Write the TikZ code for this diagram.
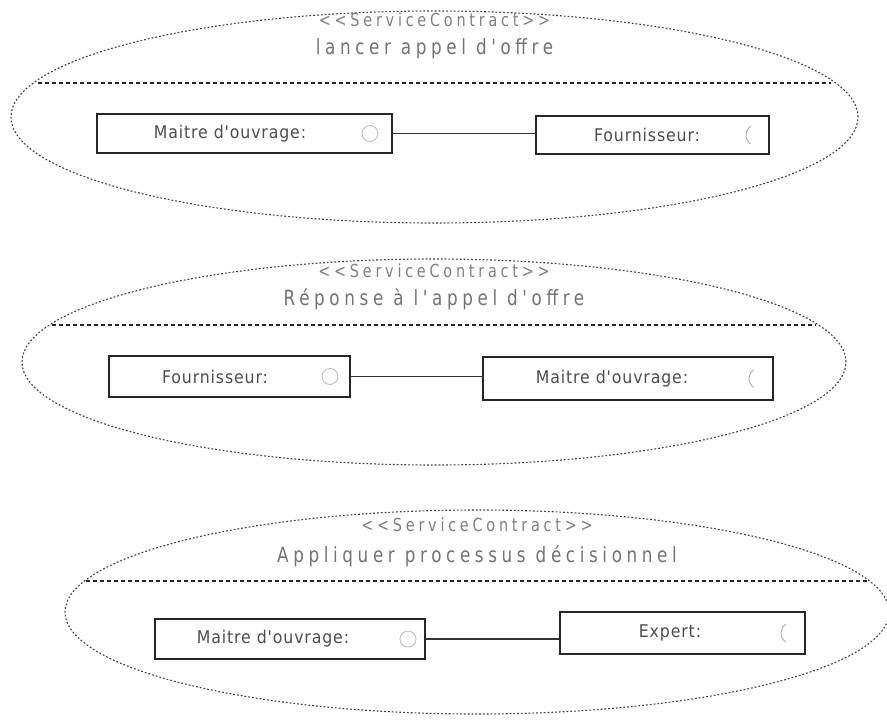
\documentclass[tikz,border=0pt]{standalone}
\usepackage{fontspec}
\setmainfont{DejaVu Sans}
\newfontfamily\headfont[FakeStretch=0.8,LetterSpace=21]{DejaVu Sans}
\newfontfamily\partfont[FakeStretch=0.9,LetterSpace=5]{DejaVu Sans}
\usetikzlibrary{shapes.geometric,calc}

\tikzset{
  contract/.style={ellipse, draw=black!75, line width=1.1pt,
    dash pattern=on 1.8pt off 2pt, inner sep=0pt},
  divider/.style={draw=black!85, line width=1.2pt, dash pattern=on 4pt off 3pt},
  part/.style={rectangle, draw=black!85, line width=1.2pt, inner sep=0pt},
  link/.style={draw=black!80, line width=1.1pt},
  stereo/.style={font=\headfont\fontsize{18}{21}\selectfont, text=black!50, anchor=base},
  cname/.style={font=\headfont\addfontfeature{LetterSpace=22}\fontsize{21}{24}\selectfont, text=black!55, anchor=base},
  plabel/.style={font=\partfont\fontsize{17.5}{20}\selectfont, text=black!70, inner sep=0pt},
  provided/.style={circle, draw=black!25, line width=0.9pt, minimum size=16pt, inner sep=0pt},
  required/.style={draw=black!30, line width=1pt},
}

\begin{document}
\begin{tikzpicture}[x=1pt,y=-1pt]
  \useasboundingbox (0,0) rectangle (887,721);

  % ---- contract 1 : lancer appel d'offre ----
  \node[contract, minimum width=847pt, minimum height=212pt] (c1) at (434.5,117) {};
  \node[stereo] (s1) at (434.5,26) {<{}<ServiceContract>{}>};
  \node[cname] (t1) at (434.5,54) {lancer appel d'offre};
  \coordinate (d1l) at (38,83);
  \coordinate (d1r) at (831,83);
  \draw[divider] (d1l) -- (d1r);

  \node[part, minimum width=295pt, minimum height=39pt] (p11) at (244.5,133.5) {};
  \node[part, minimum width=233pt, minimum height=38pt] (p12) at (652.5,135) {};
  \node[plabel] (l11) at (230,133.5) {Maitre d'ouvrage:};
  \node[plabel] (l12) at (647,135) {Fournisseur:};
  \node[provided] (i11) at (370,133.5) {};
  \draw[required] (757,135) ++(125:11) arc[start angle=125, end angle=235, radius=11];
  \draw[link] (p11.east) -- (p11.east -| p12.west);

  % ---- contract 2 : Réponse à l'appel d'offre ----
  \node[contract, minimum width=824pt, minimum height=206pt] (c2) at (434,362) {};
  \node[stereo] (s2) at (434,277) {<{}<ServiceContract>{}>};
  \node[cname] (t2) at (434,305) {Réponse à l'appel d'offre};
  \coordinate (d2l) at (52,325);
  \coordinate (d2r) at (816,325);
  \draw[divider] (d2l) -- (d2r);

  \node[part, minimum width=241pt, minimum height=41pt] (p21) at (229.5,376.5) {};
  \node[part, minimum width=290pt, minimum height=43pt] (p22) at (628,378.5) {};
  \node[plabel] (l21) at (215,376.5) {Fournisseur:};
  \node[plabel] (l22) at (612,378.5) {Maitre d'ouvrage:};
  \node[provided] (i21) at (330,376.5) {};
  \draw[required] (760,378.5) ++(125:11) arc[start angle=125, end angle=235, radius=11];
  \draw[link] (p21.east) -- (p21.east -| p22.west);

  % ---- contract 3 : Appliquer processus décisionnel ----
  \node[contract, minimum width=824pt, minimum height=204pt] (c3) at (477,612) {};
  \node[stereo] (s3) at (477,531) {<{}<ServiceContract>{}>};
  \node[cname] (t3) at (477,562) {Appliquer processus décisionnel};
  \coordinate (d3l) at (86,581);
  \coordinate (d3r) at (868,581);
  \draw[divider] (d3l) -- (d3r);

  \node[part, minimum width=270pt, minimum height=40pt] (p31) at (290,639) {};
  \node[part, minimum width=245pt, minimum height=42pt] (p32) at (682.5,633) {};
  \node[plabel] (l31) at (273,639) {Maitre d'ouvrage:};
  \node[plabel] (l32) at (670,633) {Expert:};
  \node[provided] (i31) at (408,639) {};
  \draw[required] (792,633) ++(125:11) arc[start angle=125, end angle=235, radius=11];
  \draw[link] (p31.east) -- (p31.east -| p32.west);
\end{tikzpicture}
\end{document}
